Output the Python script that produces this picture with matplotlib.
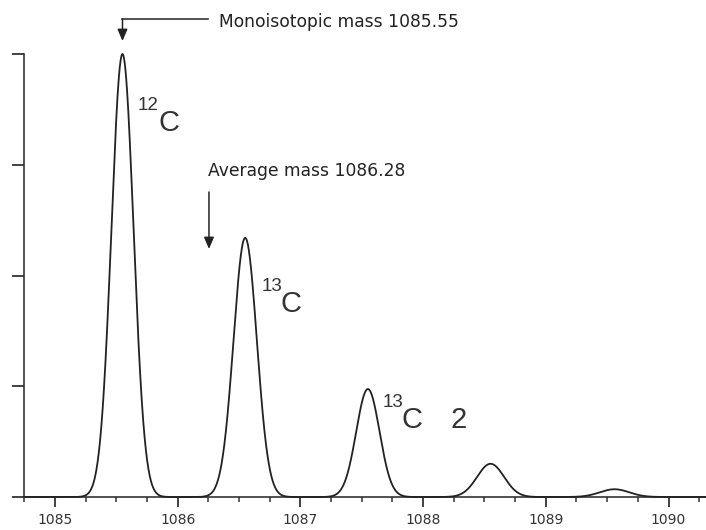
import numpy as np
import matplotlib
matplotlib.use("Agg")
import matplotlib.pyplot as plt
from matplotlib.ticker import MultipleLocator

# ---- data ----
peak_mz = [1085.55, 1086.55, 1087.55, 1088.55, 1089.56]
peak_height = [4.0, 2.34, 0.975, 0.30, 0.07]
peak_sigma = [0.09, 0.095, 0.095, 0.11, 0.12]
x_ticks = [1085, 1086, 1087, 1088, 1089, 1090]
x_ticklabels = ["1085", "1086", "1087", "1088", "1089", "1090"]
y_ticks = [0, 1, 2, 3, 4]
mono_mass = 1085.55
avg_mass = 1086.28
mono_label = "Monoisotopic mass 1085.55"
avg_label = "Average mass 1086.28"

W, H = 706, 530
fig = plt.figure(figsize=(W / 100, H / 100), dpi=100)
ax_left, ax_right, ax_top, ax_bot = 24, 706, 54, 497
ax = fig.add_axes([ax_left / W, 1 - ax_bot / H, (ax_right - ax_left) / W, (ax_bot - ax_top) / H])

x0, ppu = 1085, 122.7  # pixel of 1085 = 55
xmin = x0 - (55 - ax_left) / ppu
xmax = x0 + (ax_right - 55) / ppu
ax.set_xlim(xmin, xmax)
ax.set_ylim(0, 4)

col = "#333333"
xs = np.linspace(xmin, xmax, 4000)
ys = np.zeros_like(xs)
for m, h, s in zip(peak_mz, peak_height, peak_sigma):
    ys += h * np.exp(-0.5 * ((xs - m) / s) ** 2)
ax.plot(xs, ys, color="#222222", lw=1.3, clip_on=False, zorder=3)

for side in ["top", "right"]:
    ax.spines[side].set_visible(False)
for side in ["left", "bottom"]:
    ax.spines[side].set_color(col)
    ax.spines[side].set_linewidth(1.2)

ax.set_xticks(x_ticks)
ax.set_xticklabels(x_ticklabels)
ax.xaxis.set_minor_locator(MultipleLocator(0.25))
ax.set_yticks(y_ticks)
ax.set_yticklabels([])
ax.tick_params(axis="x", which="major", direction="out", length=7.5, width=1.3, color=col,
               labelsize=10, labelcolor=col, pad=4)
ax.tick_params(axis="x", which="minor", direction="out", length=3.8, width=1.1, color=col)
ax.tick_params(axis="y", which="major", direction="out", length=8.5, width=1.3, color=col)
for lab in ax.get_xticklabels():
    lab.set_fontfamily(["DejaVu Sans"])

def ydat(py):
    return (ax_bot - py) / 110.75

def xdat(px):
    return x0 + (px - 55) / ppu

font = ["Liberation Sans Narrow", "Liberation Sans", "DejaVu Sans"]

# Monoisotopic arrow
ax.plot([xdat(208), mono_mass], [ydat(19), ydat(19)], color="#222222", lw=1.1, clip_on=False)
ax.annotate("", xy=(mono_mass, ydat(41)), xytext=(mono_mass, ydat(19)),
            arrowprops=dict(arrowstyle="-|>,head_length=0.7,head_width=0.3", color="#222222", lw=1.1,
                            shrinkA=0, shrinkB=0), annotation_clip=False)
ax.text(xdat(219), ydat(22), mono_label, fontsize=12.3, color="#222222", va="center", ha="left",
        family=["DejaVu Sans"], clip_on=False)

# Average arrow
ax.annotate("", xy=(avg_mass - 0.025, ydat(249)), xytext=(avg_mass - 0.025, ydat(192)),
            arrowprops=dict(arrowstyle="-|>,head_length=0.7,head_width=0.3", color="#222222", lw=1.1,
                            shrinkA=0, shrinkB=0), annotation_clip=False)
ax.text(xdat(208), ydat(171), avg_label, fontsize=12.3, color="#222222", va="center", ha="left",
        family=["DejaVu Sans"])

# isotope labels (pixel placement)
def lab(px, py, s, size):
    fig.text(px / W, 1 - py / H, s, fontsize=size, color="#333333", ha="left", va="baseline",
             family=font)

lab(138, 110, "12", 13.5)
lab(158, 131, "C", 21)
lab(262, 291, "13", 13.5)
lab(281, 312, "C", 21)
lab(383, 407, "13", 13.5)
lab(402, 428, "C", 21)
lab(451, 428, "2", 21)

fig.savefig("out.png", dpi=100)
